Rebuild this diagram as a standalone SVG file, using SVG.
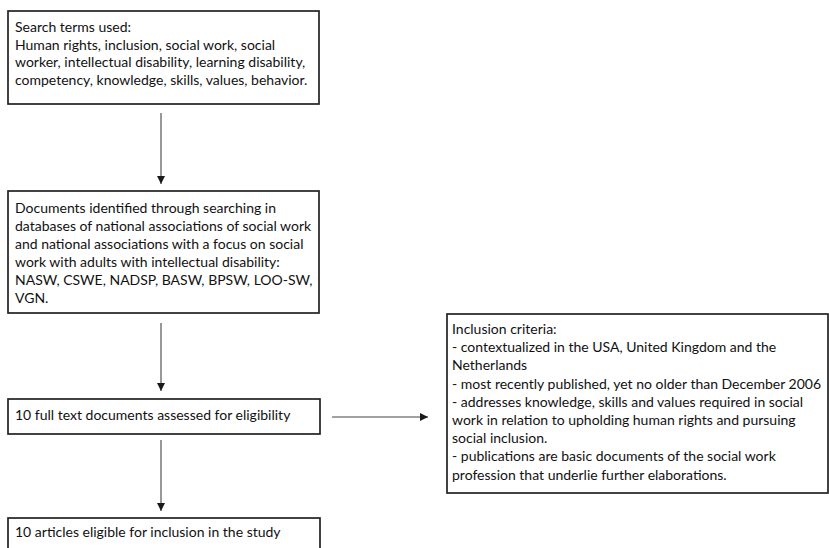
<svg xmlns="http://www.w3.org/2000/svg" width="829" height="548" viewBox="0 0 829 548">
<style>
.box{fill:#fff;stroke:#222;stroke-width:1.7}
.t{font-family:Lato,"Liberation Sans",sans-serif;font-size:14px;fill:#111}
.c{stroke:#444;stroke-width:1.1;fill:none;marker-end:url(#ah)}
</style>
<defs>
<marker id="ah" viewBox="0 0 10 10" refX="10" refY="5" markerWidth="8" markerHeight="8" markerUnits="userSpaceOnUse" orient="auto">
<path d="M0,0 L10,5 L0,10 z" fill="#1a1a1a"/>
</marker>
</defs>
<rect width="829" height="548" fill="#fff"/>
<g id="connectors">
<line class="c" x1="161" y1="113" x2="161" y2="184"/>
<line class="c" x1="161" y1="323" x2="161" y2="391"/>
<line class="c" x1="161" y1="440" x2="161" y2="511"/>
<line class="c" x1="332" y1="417" x2="428" y2="417"/>
</g>
<g id="search-terms">
<rect class="box" x="8" y="11" width="311" height="93"/>
<text class="t" x="15" y="32">Search terms used:</text>
<text class="t" x="15" y="49.5">Human rights, inclusion, social work, social</text>
<text class="t" x="15" y="67">worker, intellectual disability, learning disability,</text>
<text class="t" x="15" y="84.5">competency, knowledge, skills, values, behavior.</text>
</g>
<g id="documents-identified">
<rect class="box" x="8" y="191" width="311" height="122"/>
<text class="t" x="15" y="213">Documents identified through searching  in</text>
<text class="t" x="15" y="231">databases of national associations of social work</text>
<text class="t" x="15" y="249">and national associations with a focus on social</text>
<text class="t" x="15" y="267">work with adults with intellectual disability:</text>
<text class="t" x="15" y="285">NASW, CSWE, NADSP, BASW, BPSW, LOO-SW,</text>
<text class="t" x="15" y="303">VGN.</text>
</g>
<g id="full-text-assessed">
<rect class="box" x="8" y="399" width="312" height="35"/>
<text class="t" x="15" y="420">10 full text documents assessed for eligibility</text>
</g>
<g id="articles-eligible">
<rect class="box" x="8" y="518" width="312" height="40"/>
<text class="t" x="15" y="537">10 articles eligible for inclusion in the study</text>
</g>
<g id="inclusion-criteria">
<rect class="box" x="447" y="314" width="381" height="179"/>
<text class="t" x="452" y="334">Inclusion criteria:</text>
<text class="t" x="452" y="352.2">- contextualized in the USA, United Kingdom and the</text>
<text class="t" x="452" y="370.4">Netherlands</text>
<text class="t" x="452" y="388.6">- most recently published, yet no older than December 2006</text>
<text class="t" x="452" y="406.8">-  addresses knowledge, skills and values required in social</text>
<text class="t" x="452" y="425">work in relation to upholding human rights and pursuing</text>
<text class="t" x="452" y="443.2">social inclusion.</text>
<text class="t" x="452" y="461.4">- publications are basic documents of the social work</text>
<text class="t" x="452" y="479.6">profession that underlie further elaborations.</text>
</g>
</svg>
